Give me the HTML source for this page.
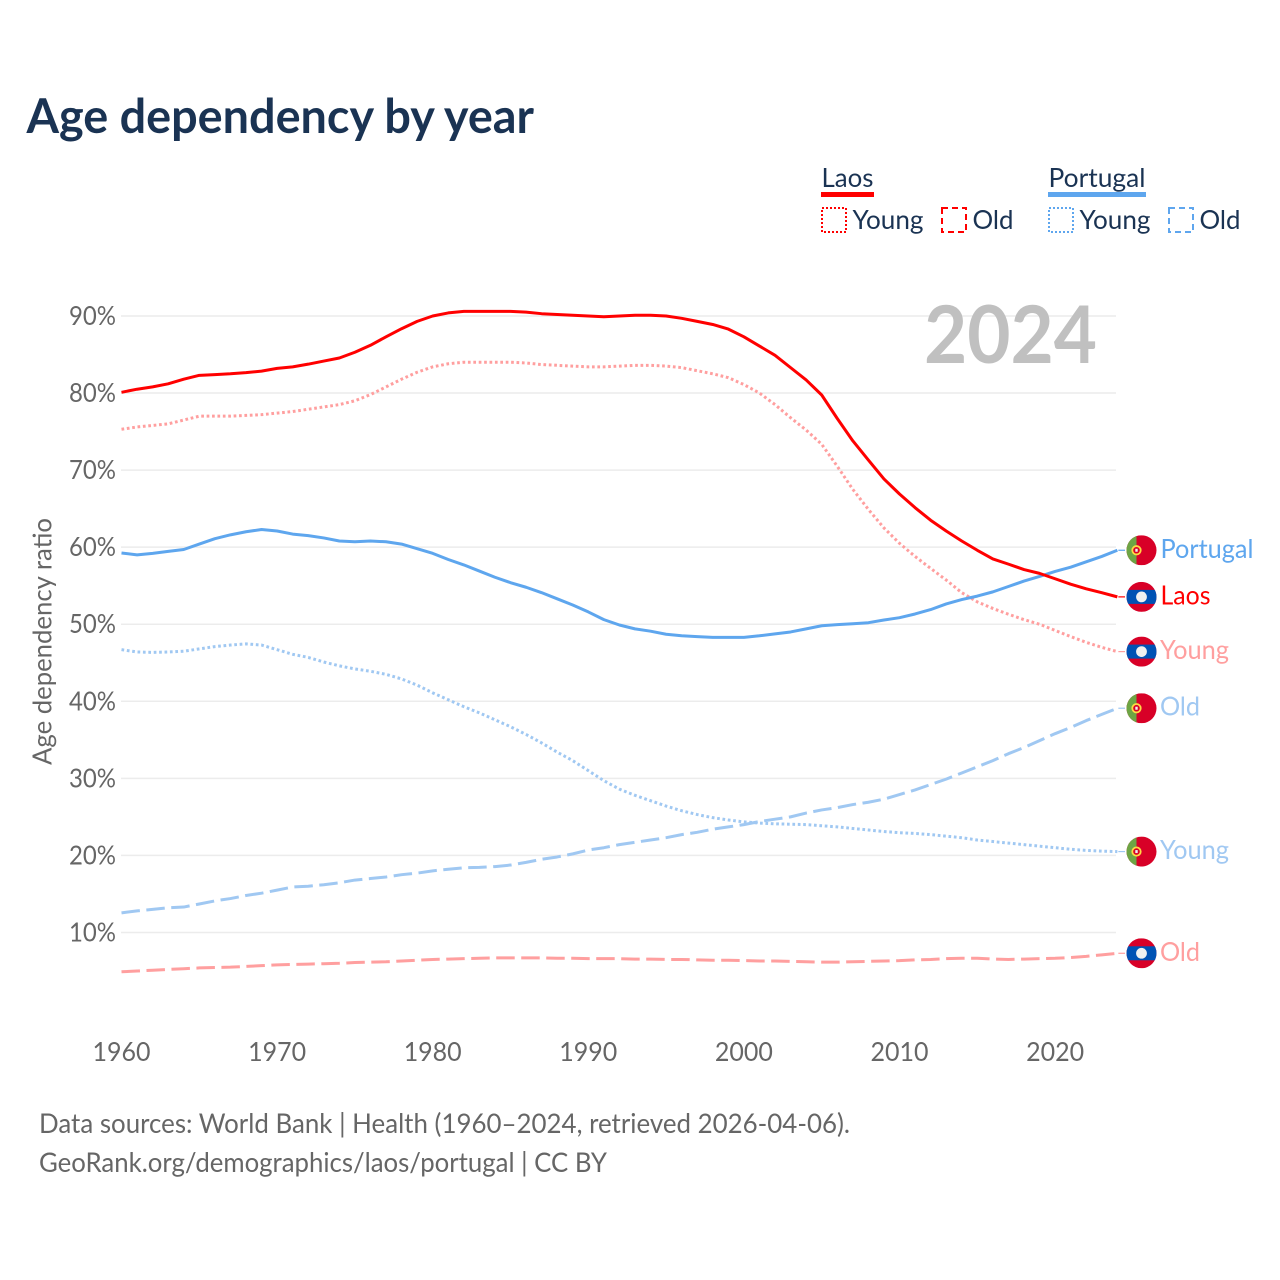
<!DOCTYPE html>
<html lang="en">
<head>
<meta charset="utf-8">
<title>Age dependency by year</title>
<style>
html,body{margin:0;padding:0;background:#fff;width:1280px;height:1280px;overflow:hidden}
svg{display:block}
text{font-family:"Lato","Carlito","Liberation Sans",sans-serif}
</style>
</head>
<body>
<svg id="chart" xmlns="http://www.w3.org/2000/svg" width="1280" height="1280" viewBox="0 0 1280 1280">
  <defs><clipPath id="flag-clip"><circle cx="0" cy="0" r="15"></circle></clipPath></defs>
  <text x="26.5" y="133" font-size="47.5" font-weight="700" fill="#1a3353" textLength="507.5" lengthAdjust="spacingAndGlyphs">Age dependency by year</text>

  <g font-size="26.5" fill="#1a3353">
    <text x="821.5" y="187" textLength="52" lengthAdjust="spacingAndGlyphs">Laos</text>
    <rect x="821" y="192" width="53" height="5" fill="#ff0000"></rect>
    <rect x="822" y="208" width="24" height="24" fill="none" stroke="#ff0000" stroke-width="2" stroke-dasharray="2 2"></rect>
    <text x="852.5" y="229" textLength="71" lengthAdjust="spacingAndGlyphs">Young</text>
    <rect x="942" y="208" width="24" height="24" fill="none" stroke="#ff0000" stroke-width="2" stroke-dasharray="6 4"></rect>
    <text x="972.5" y="229" textLength="41" lengthAdjust="spacingAndGlyphs">Old</text>
    <text x="1048.5" y="187" textLength="97" lengthAdjust="spacingAndGlyphs">Portugal</text>
    <rect x="1048" y="192" width="98" height="5" fill="#5ea6ee"></rect>
    <rect x="1049" y="208" width="24" height="24" fill="none" stroke="#5ea6ee" stroke-width="2" stroke-dasharray="2 2"></rect>
    <text x="1079.5" y="229" textLength="71" lengthAdjust="spacingAndGlyphs">Young</text>
    <rect x="1169" y="208" width="24" height="24" fill="none" stroke="#5ea6ee" stroke-width="2" stroke-dasharray="6 4"></rect>
    <text x="1199.5" y="229" textLength="41" lengthAdjust="spacingAndGlyphs">Old</text>
  </g>

  <g id="grid"></g>
  <g id="yticks"></g>
  <g id="xticks"></g>
  <text x="0" y="0" transform="translate(51.5 641.5) rotate(-90)" text-anchor="middle" font-size="26" fill="#666666" textLength="247" lengthAdjust="spacingAndGlyphs">Age dependency ratio</text>
  <text x="924" y="363" font-size="80" font-weight="700" fill="#c0c0c0" textLength="173" lengthAdjust="spacingAndGlyphs">2024</text>
  <g id="series"></g>
  <g id="ends"></g>

  <text x="39" y="1133" font-size="27" fill="#666666" textLength="811" lengthAdjust="spacingAndGlyphs">Data sources: World Bank | Health (1960–2024, retrieved 2026-04-06).</text>
  <text x="39" y="1172" font-size="27" fill="#666666" textLength="568" lengthAdjust="spacingAndGlyphs">GeoRank.org/demographics/laos/portugal | CC BY</text>
</svg>
<script>
var startYear = 1960;
var yTickValues = [10, 20, 30, 40, 50, 60, 70, 80, 90];
var yTickLabels = ["10%", "20%", "30%", "40%", "50%", "60%", "70%", "80%", "90%"];
var xTickValues = [1960, 1970, 1980, 1990, 2000, 2010, 2020];
var xTickLabels = ["1960", "1970", "1980", "1990", "2000", "2010", "2020"];

var laosTotal = [80.1,80.5,80.8,81.2,81.8,82.3,82.4,82.5,82.65,82.85,83.2,83.4,83.75,84.15,84.55,85.3,86.2,87.3,88.35,89.3,90.0,90.4,90.6,90.6,90.6,90.6,90.5,90.3,90.2,90.1,90.0,89.9,90.0,90.1,90.1,90.0,89.7,89.3,88.9,88.3,87.3,86.1,84.9,83.3,81.7,79.75,76.7,73.8,71.3,68.85,66.9,65.13,63.5,62.1,60.8,59.6,58.47,57.8,57.1,56.6,55.9,55.2,54.6,54.1,53.55];
var laosYoung = [75.3,75.6,75.8,76.0,76.5,77.0,77.0,77.0,77.1,77.2,77.4,77.6,77.9,78.2,78.5,79.0,79.8,80.8,81.8,82.7,83.4,83.8,84.0,84.0,84.0,84.0,83.9,83.7,83.6,83.5,83.4,83.4,83.5,83.6,83.6,83.5,83.3,82.9,82.5,82.0,81.1,80.0,78.5,76.8,75.2,73.35,70.5,67.5,64.9,62.5,60.5,58.8,57.25,55.74,54.1,52.9,52.05,51.3,50.6,50.0,49.2,48.4,47.65,47.0,46.45];
var laosOld = [4.9,5.0,5.1,5.2,5.3,5.4,5.45,5.5,5.6,5.7,5.8,5.85,5.9,5.95,6.0,6.1,6.15,6.2,6.3,6.4,6.5,6.55,6.6,6.65,6.7,6.7,6.7,6.7,6.65,6.65,6.6,6.6,6.6,6.55,6.55,6.5,6.5,6.45,6.4,6.4,6.35,6.3,6.3,6.25,6.2,6.15,6.15,6.2,6.25,6.3,6.35,6.45,6.5,6.6,6.65,6.65,6.55,6.5,6.55,6.6,6.65,6.75,6.9,7.1,7.3];
var portugalTotal = [59.25,59.0,59.2,59.45,59.7,60.4,61.1,61.6,62.0,62.3,62.1,61.7,61.5,61.2,60.8,60.7,60.8,60.7,60.4,59.8,59.2,58.4,57.7,56.9,56.1,55.4,54.8,54.1,53.3,52.5,51.6,50.6,49.9,49.4,49.1,48.7,48.5,48.4,48.3,48.3,48.3,48.5,48.75,49.0,49.4,49.8,49.95,50.07,50.2,50.55,50.85,51.33,51.9,52.63,53.2,53.65,54.2,54.9,55.6,56.2,56.85,57.4,58.1,58.8,59.6];
var portugalYoung = [46.7,46.4,46.35,46.4,46.5,46.8,47.1,47.3,47.45,47.3,46.7,46.1,45.7,45.1,44.6,44.2,43.9,43.5,42.9,42.1,41.1,40.2,39.3,38.5,37.6,36.7,35.7,34.6,33.4,32.3,31.0,29.7,28.6,27.8,27.1,26.4,25.8,25.3,24.9,24.6,24.35,24.2,24.1,24.05,24.0,23.85,23.7,23.5,23.3,23.1,22.95,22.85,22.7,22.5,22.3,22.0,21.8,21.6,21.4,21.2,21.0,20.8,20.65,20.55,20.5];
var portugalOld = [12.55,12.8,13.0,13.2,13.3,13.7,14.1,14.4,14.8,15.1,15.5,15.9,16.0,16.2,16.45,16.8,17.0,17.2,17.5,17.7,18.0,18.2,18.4,18.45,18.55,18.75,19.1,19.5,19.8,20.2,20.7,21.0,21.4,21.7,22.0,22.3,22.7,23.0,23.4,23.7,24.0,24.4,24.7,25.0,25.5,25.9,26.2,26.6,26.9,27.3,27.9,28.5,29.2,29.9,30.7,31.5,32.3,33.2,34.0,34.9,35.8,36.6,37.5,38.3,39.1];

var NS = "http://www.w3.org/2000/svg";
function xScale(year) { return 121.5 + (year - 1960) * 15.56; }
function yScale(value) { return 316 + (90 - value) * 7.706; }
function make(tag, parent) {
  var el = document.createElementNS(NS, tag);
  parent.appendChild(el);
  return el;
}

var gridGroup = document.getElementById("grid");
var yTickGroup = document.getElementById("yticks");
yTickValues.forEach(function (v, i) {
  var line = make("line", gridGroup);
  
  
  line.setAttribute("x1", 121);
  line.setAttribute("x2", 1116);
  line.setAttribute("y1", yScale(v));
  line.setAttribute("y2", yScale(v));
  line.setAttribute("stroke", "#ececec");
  line.setAttribute("stroke-width", 1.5);
  var t = make("text", yTickGroup);
  
  
  t.setAttribute("x", 69);
  t.setAttribute("y", yScale(v) + 9);
  t.setAttribute("font-size", 26.5);
  t.setAttribute("fill", "#666666");
  t.setAttribute("textLength", 47);
  t.setAttribute("lengthAdjust", "spacingAndGlyphs");
  t.textContent = yTickLabels[i];
});

var xTickGroup = document.getElementById("xticks");
xTickValues.forEach(function (v, i) {
  var t = make("text", xTickGroup);
  
  
  t.setAttribute("x", xScale(v) - 29);
  t.setAttribute("y", 1061);
  t.setAttribute("font-size", 26.5);
  t.setAttribute("fill", "#666666");
  t.setAttribute("textLength", 58);
  t.setAttribute("lengthAdjust", "spacingAndGlyphs");
  t.textContent = xTickLabels[i];
});

var PLAIN = "none", DOTTED = "2.7 2.7", DASHED = "18.5 6.5";
var seriesDefs = [
  { name: "laos-old", values: laosOld, color: "#ff9f9f", dash: DASHED, width: 3, label: "Old", flag: "laos", lx: 1160, lw: 40 },
  { name: "portugal-old", values: portugalOld, color: "#a0c8f2", dash: DASHED, width: 3, label: "Old", flag: "portugal", lx: 1160, lw: 40 },
  { name: "portugal-young", values: portugalYoung, color: "#a0c8f2", dash: DOTTED, width: 3, label: "Young", flag: "portugal", lx: 1160, lw: 69 },
  { name: "laos-young", values: laosYoung, color: "#ff9f9f", dash: DOTTED, width: 3, label: "Young", flag: "laos", lx: 1160, lw: 69 },
  { name: "portugal-total", values: portugalTotal, color: "#5ea6ee", dash: PLAIN, width: 3, label: "Portugal", flag: "portugal", lx: 1160.5, lw: 93 },
  { name: "laos-total", values: laosTotal, color: "#ff0000", dash: PLAIN, width: 3, label: "Laos", flag: "laos", lx: 1160.5, lw: 50 }
];

var seriesGroup = document.getElementById("series");
var endGroup = document.getElementById("ends");

function drawFlag(parent, kind, cy) {
  var g = make("g", parent);
  g.setAttribute("transform", "translate(1141.5 " + cy + ")");
  g.setAttribute("clip-path", "url(#flag-clip)");
  if (kind === "laos") {
    var r1 = make("rect", g);
    r1.setAttribute("x", -15); r1.setAttribute("y", -15);
    r1.setAttribute("width", 30); r1.setAttribute("height", 30);
    r1.setAttribute("fill", "#d80027");
    var r2 = make("rect", g);
    r2.setAttribute("x", -15); r2.setAttribute("y", -7);
    r2.setAttribute("width", 30); r2.setAttribute("height", 14);
    r2.setAttribute("fill", "#0052b4");
    var c = make("circle", g);
    c.setAttribute("r", 5.4);
    c.setAttribute("fill", "#f0f0f0");
  } else {
    var a = make("rect", g);
    a.setAttribute("x", -15); a.setAttribute("y", -15);
    a.setAttribute("width", 30); a.setAttribute("height", 30);
    a.setAttribute("fill", "#d80027");
    var b = make("rect", g);
    b.setAttribute("x", -15); b.setAttribute("y", -15);
    b.setAttribute("width", 10); b.setAttribute("height", 30);
    b.setAttribute("fill", "#6da544");
    var ring = make("circle", g);
    ring.setAttribute("cx", -5); ring.setAttribute("cy", 0); ring.setAttribute("r", 4.2);
    ring.setAttribute("fill", "#d80027");
    ring.setAttribute("stroke", "#ffda44"); ring.setAttribute("stroke-width", 1.8);
    var shield = make("rect", g);
    shield.setAttribute("x", -6.2); shield.setAttribute("y", -1.5);
    shield.setAttribute("width", 2.4); shield.setAttribute("height", 3);
    shield.setAttribute("fill", "#f0f0f0");
  }
  return g;
}

seriesDefs.forEach(function (s) {
  var pts = s.values.map(function (v, i) {
    return xScale(startYear + i).toFixed(2) + "," + yScale(v).toFixed(2);
  });
  var p = make("polyline", seriesGroup);
  
  
  p.setAttribute("id", "line-" + s.name);
  p.setAttribute("points", pts.join(" "));
  p.setAttribute("fill", "none");
  p.setAttribute("stroke", s.color);
  p.setAttribute("stroke-width", s.width);
  p.setAttribute("stroke-linejoin", "round");
  if (s.dash !== PLAIN) { p.setAttribute("stroke-dasharray", s.dash); }

  var endY = yScale(s.values[s.values.length - 1]);
  var leader = make("line", endGroup);
  
  
  leader.setAttribute("x1", xScale(2024) + 1);
  leader.setAttribute("x2", 1125);
  leader.setAttribute("y1", endY);
  leader.setAttribute("y2", endY);
  leader.setAttribute("stroke", s.color);
  leader.setAttribute("stroke-width", 1.2);

  var flag = drawFlag(endGroup, s.flag, endY);
  
  

  var t = make("text", endGroup);
  
  
  t.setAttribute("x", s.lx);
  t.setAttribute("y", endY + 7.5);
  t.setAttribute("font-size", 26.5);
  t.setAttribute("fill", s.color);
  t.setAttribute("textLength", s.lw);
  t.setAttribute("lengthAdjust", "spacingAndGlyphs");
  t.textContent = s.label;
});
</script>
</body>
</html>
